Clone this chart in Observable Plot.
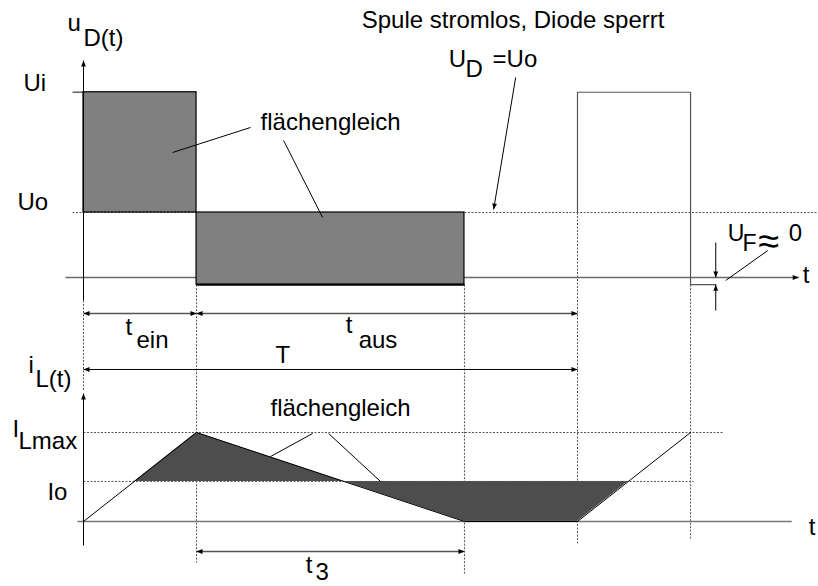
<!DOCTYPE html>
<html><head><meta charset="utf-8">
<script src="https://cdn.jsdelivr.net/npm/d3@7"></script>
<script src="https://cdn.jsdelivr.net/npm/@observablehq/plot@0.6"></script>
<style>
body{margin:0;background:#fff;}
#wrap{position:relative;width:818px;height:586px;background:#fff;}
#wrap svg{position:absolute;left:0;top:0;overflow:visible;}
</style></head><body><div id="wrap"></div>
<script>
// ---------- data ----------
const tEin = 1;            // switch-on time
const t3 = 2.37;           // inductor current decay time
const T = 4.37;            // period
const timeLabels = ["0", "t_ein", "t_ein+t_3", "T", "T+t_ein"];
const timePoints = [0, tEin, tEin + t3, T, T + tEin];
const Ui = 2.85, Uo = 1, UF = 0.11;       // voltage levels (Uo = 1)
const uValues = [Ui, -UF, Uo, Ui, -UF];   // u_D on each interval starting at timePoints
const ILmax = 1, Io = 0.45;               // current levels (ILmax = 1)
const iValues = [0, ILmax, 0, 0, ILmax];  // i_L at timePoints

const FONT = "'Liberation Sans', Arial, Helvetica, sans-serif";
const W = 818, H = 586;
const xScale = {domain: [0, T], range: [83, 577], axis: null};

const head = {draw(ctx, l) { ctx.moveTo(0, -l); ctx.lineTo(-2.4, 0); ctx.lineTo(2.4, 0); ctx.closePath(); }};
const heads = (arr) => Plot.vector(arr, {x: "x", y: "y", rotate: "r", length: 6, shape: head, anchor: "end", fill: "#000", stroke: "none"});
const links = (arr, o) => Plot.link(arr, {x1: "x1", y1: "y1", x2: "x2", y2: "y2", ...o});
const texts = (arr, o) => Plot.text(arr, {x: "x", y: "y", text: "text", lineAnchor: "bottom", textAnchor: "start", fontSize: 24, fill: "#000", ...o});

// ---------- upper panel: u_D(t) ----------
const tp = timePoints;
const rectsU = [
  {x1: tp[0], x2: tp[1], y1: Uo, y2: uValues[0]},
  {x1: tp[1], x2: tp[2], y1: uValues[1], y2: Uo}
];
const pulse = [
  {x: tp[3], y: Uo}, {x: tp[3], y: uValues[3]}, {x: tp[4], y: uValues[3]},
  {x: tp[4], y: uValues[4]}, {x: 5.593, y: uValues[4]}
];
const dashedU = [
  {x1: -0.097, y1: Uo, x2: 6.6, y2: Uo},
  {x1: tp[0], y1: -0.354, x2: tp[0], y2: -1.738},
  {x1: tp[1], y1: -UF, x2: tp[1], y2: -4.385},
  {x1: tp[2], y1: -UF, x2: tp[2], y2: -4.554},
  {x1: tp[3], y1: Uo, x2: tp[3], y2: -4.092},
  {x1: tp[4], y1: -UF, x2: tp[4], y2: -4.015}
];
const grayU = [
  {x1: -0.097, y1: Ui, x2: 0, y2: Ui},
  {x1: -0.159, y1: 0, x2: 6.327, y2: 0}
];
const dimU = [
  {x1: tp[0], y1: -0.554, x2: tp[1], y2: -0.554},
  {x1: tp[1], y1: -0.554, x2: tp[3], y2: -0.554}
];
const blackU = [
  {x1: 0, y1: -0.354, x2: 0, y2: 3.338},
  {x1: tp[0], y1: -1.415, x2: tp[3], y2: -1.415},
  {x1: 5.593, y1: 0.538, x2: 5.593, y2: 0},
  {x1: 5.593, y1: -0.508, x2: 5.593, y2: -UF},
  {x1: 5.681, y1: -0.046, x2: 6.053, y2: 0.415},
  {x1: 1.478, y1: 2.308, x2: 0.788, y2: 1.923},
  {x1: 1.770, y1: 2.108, x2: 2.115, y2: 0.923},
  {x1: 3.823, y1: 3.077, x2: 3.628, y2: 1.046}
];
const headsU = [
  {x: 0, y: 3.338, r: 0}, {x: 6.327, y: 0, r: 90},
  {x: tp[0], y: -0.554, r: 270}, {x: tp[1], y: -0.554, r: 90},
  {x: tp[1], y: -0.554, r: 270}, {x: tp[3], y: -0.554, r: 90},
  {x: tp[0], y: -1.415, r: 270}, {x: tp[3], y: -1.415, r: 90},
  {x: 5.593, y: 0, r: 180}, {x: 5.593, y: -UF, r: 0},
  {x: 3.628, y: 1.046, r: 189.5}
];
const textU = [
  {text: "u", x: -0.142, y: 3.8}, {text: "D(t)", x: 0, y: 3.554},
  {text: "Ui", x: -0.531, y: 2.87}, {text: "Uo", x: -0.584, y: 1.031},
  {text: "U", x: 3.23, y: 3.231}, {text: "D", x: 3.38, y: 3.092}, {text: "=Uo", x: 3.619, y: 3.231},
  {text: "t", x: 0.372, y: -0.89}, {text: "ein", x: 0.469, y: -1.077},
  {text: "t", x: 2.319, y: -0.86}, {text: "aus", x: 2.434, y: -1.077},
  {text: "T", x: 1.699, y: -1.308},
  {text: "t", x: 6.363, y: -0.092},
  {text: "0", x: 6.239, y: 0.569}
];
const textUF = [
  {text: "U", x: 5.699, y: 0.569}, {text: "F", x: 5.83, y: 0.415}
];
const textUc = [
  {text: "Spule stromlos, Diode sperrt", x: 3.80, y: 3.846},
  {text: "flächengleich", x: 2.186, y: 2.262}
];

const upper = Plot.plot({
  width: W, height: H, margin: 0,
  x: xScale,
  y: {domain: [0, Uo], range: [277, 212], axis: null},
  style: {fontFamily: FONT, background: "transparent", overflow: "visible"},
  marks: [
    links(dashedU, {stroke: "#555", strokeWidth: 1, strokeDasharray: "2,1.5"}),
    links(grayU, {stroke: "#6a6a6a", strokeWidth: 1.6}),
    Plot.rect(rectsU, {x1: "x1", x2: "x2", y1: "y1", y2: "y2", fill: "#808080", stroke: "#000", strokeWidth: 1.2}),
    links([{x1: tp[1], y1: -UF, x2: tp[2], y2: -UF}], {stroke: "#000", strokeWidth: 2}),
    Plot.line(pulse, {x: "x", y: "y", stroke: "#555", strokeWidth: 1.2}),
    links(dimU, {stroke: "#555", strokeWidth: 1.3}),
    links(blackU, {stroke: "#000", strokeWidth: 1}),
    heads(headsU),
    texts(textU),
    texts(textUF, {fontSize: 23}),
    texts([{text: "≈", x: 5.97, y: 0.36}], {fontSize: 38})
  ].concat([texts(textUc, {textAnchor: "middle"})])
});

// ---------- lower panel: i_L(t) ----------
function crossing(k, level) {
  const a = timePoints[k], b = timePoints[k + 1], ya = iValues[k], yb = iValues[k + 1];
  return a + (level - ya) / (yb - ya) * (b - a);
}
const currentPts = timePoints.map((t, k) => ({t, i: iValues[k]}));
const shaded = [
  {t: crossing(0, Io), i: Io}, {t: timePoints[1], i: iValues[1]}, {t: timePoints[2], i: iValues[2]},
  {t: timePoints[3], i: iValues[3]}, {t: crossing(3, Io), i: Io}
];
const dashedL = [
  {x1: 0, y1: ILmax, x2: 5.664, y2: ILmax},
  {x1: 0, y1: Io, x2: 5.398, y2: Io}
];
const blackL = [
  {x1: 0, y1: -0.27, x2: 0, y2: 1.438},
  {x1: 2.027, y1: 0.989, x2: 1.655, y2: 0.730},
  {x1: 2.168, y1: 0.989, x2: 2.628, y2: 0.449}
];
const headsL = [
  {x: 0, y: 1.438, r: 0},
  {x: tp[1], y: -0.337, r: 270}, {x: tp[2], y: -0.337, r: 90}
];
const textL = [
  {text: "i", x: -0.487, y: 1.663}, {text: "L(t)", x: -0.425, y: 1.506},
  {text: "I", x: -0.628, y: 0.944}, {text: "Lmax", x: -0.575, y: 0.82},
  {text: "Io", x: -0.319, y: 0.247},
  {text: "t", x: 6.416, y: -0.157},
  {text: "t", x: 1.965, y: -0.58}, {text: "3", x: 2.053, y: -0.66}
];

const lower = Plot.plot({
  width: W, height: H, margin: 0,
  x: xScale,
  y: {domain: [0, ILmax], range: [521, 432], axis: null},
  style: {fontFamily: FONT, background: "transparent", overflow: "visible"},
  marks: [
    Plot.areaY(shaded, {x: "t", y1: () => Io, y2: "i", fill: "#4d4d4d"}),
    links(dashedL, {stroke: "#555", strokeWidth: 1, strokeDasharray: "2,1.5"}),
    links([{x1: -0.053, y1: 0, x2: 6.265, y2: 0}], {stroke: "#777", strokeWidth: 1.6}),
    Plot.line(currentPts, {x: "t", y: "i", stroke: "#000", strokeWidth: 1}),
    links([{x1: tp[1], y1: -0.337, x2: tp[2], y2: -0.337}], {stroke: "#555", strokeWidth: 1.3}),
    links(blackL, {stroke: "#000", strokeWidth: 1}),
    heads(headsL),
    texts(textL),
    texts([{text: "flächengleich", x: 2.274, y: 1.18}], {textAnchor: "middle"})
  ]
});

const wrap = document.getElementById("wrap");
wrap.appendChild(upper);
wrap.appendChild(lower);
</script></body></html>
